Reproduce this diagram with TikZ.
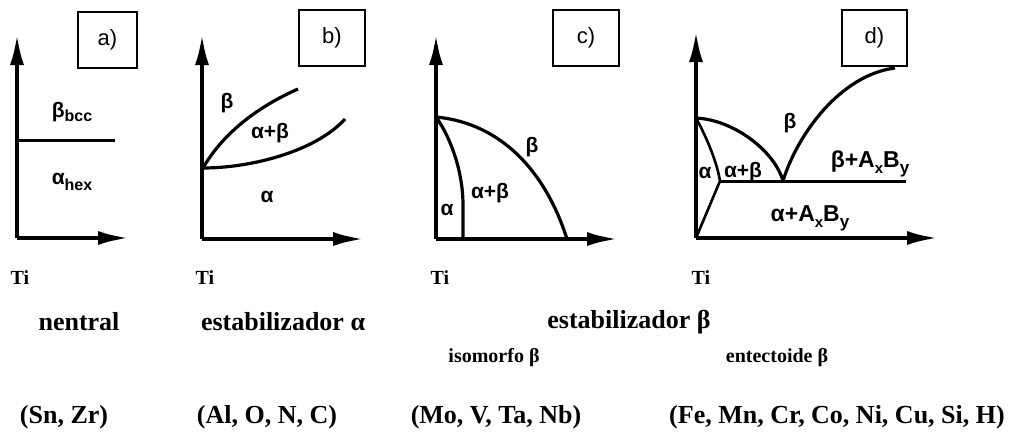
\documentclass[tikz,border=0pt]{standalone}
\usepackage{fontspec}
\setmainfont{Liberation Serif}
\newfontfamily\lsans{Liberation Sans}
\usetikzlibrary{arrows.meta}
\begin{document}
\begin{tikzpicture}[x=1pt,y=-1pt,
  axis/.style={line width=4.5pt,-{Latex[length=32pt,width=14pt]}},
  curve/.style={line width=3.2pt},
  tag/.style={draw,line width=1.4pt,minimum width=#1,minimum height=56pt,inner sep=0pt,font=\lsans\fontsize{22}{24}\selectfont},
  tag/.default=60pt,
  phase/.style={inner sep=0pt,font=\lsans\bfseries\fontsize{21}{24}\selectfont},
  phaseB/.style={inner sep=0pt,font=\lsans\bfseries\fontsize{23}{26}\selectfont},
  tilab/.style={inner sep=0pt,font=\bfseries\fontsize{20}{20}\selectfont},
  bigtxt/.style={inner sep=0pt,font=\bfseries\fontsize{26}{28}\selectfont},
  smalltxt/.style={inner sep=0pt,font=\bfseries\fontsize{20}{22}\selectfont}]
\useasboundingbox (0,0) rectangle (1023,434);
% ---------- panel a ----------
\coordinate (Oa) at (17,238);
\coordinate (Ya) at (17,33);
\coordinate (Xa) at (130,238);
\coordinate (Ha) at (115,140);
\coordinate (Ha0) at (17,140);
\draw[axis] (Oa) -- (Ya);
\draw[axis] (Oa) -- (Xa);
\draw[line width=3pt] (Ha0) -- (Ha);
\node[tag=59pt] (ta) at (107.5,40) {a)};
\node[phase] (bbcc) at (72,112) {β\raisebox{-0.35ex}{\fontsize{16}{18}\selectfont bcc}};
\node[phase] (ahex) at (72,182) {α\raisebox{-0.6ex}{\fontsize{16}{18}\selectfont hex}};
\node[tilab] (tia) at (20,278) {Ti};
% ---------- panel b ----------
\coordinate (Ob) at (202,239);
\coordinate (Yb) at (202,33);
\coordinate (Xb) at (365,239);
\coordinate (Pb) at (203,168);
\coordinate (Ub) at (298,89);
\coordinate (Lb) at (345,119);
\draw[axis] (Ob) -- (Yb);
\draw[axis] (Ob) -- (Xb);
\draw[curve] (Pb) .. controls (222,135) and (255,108) .. (Ub);
\draw[curve] (Pb) .. controls (250,168) and (315,152) .. (Lb);
\node[tag=66pt] (tb) at (332,38) {b)};
\node[phase] (bb) at (227,103) {β};
\node[phase] (abb) at (270,133) {α+β};
\node[phase] (ab) at (267,197) {α};
\node[tilab] (tib) at (205,278) {Ti};
% ---------- panel c ----------
\coordinate (Oc) at (436,239);
\coordinate (Yc) at (436,33);
\coordinate (Xc) at (619,239);
\coordinate (Pc) at (436,117);
\coordinate (Ec) at (567,239);
\coordinate (Ic) at (463,205);
\coordinate (Ic0) at (463,239);
\draw[axis] (Oc) -- (Yc);
\draw[axis] (Oc) -- (Xc);
\draw[curve] (Pc) .. controls (500,123) and (545,170) .. (Ec);
\draw[curve] (Pc) .. controls (451,138) and (463,172) .. (Ic) -- (Ic0);
\node[tag=66pt] (tc) at (586,38) {c)};
\node[phase] (ac) at (447,210) {α};
\node[phase] (abc) at (490,193) {α+β};
\node[phase] (bc) at (532,147) {β};
\node[tilab] (tic) at (440,278) {Ti};
% ---------- panel d ----------
\coordinate (Od) at (696,238);
\coordinate (Yd) at (696,30);
\coordinate (Xd) at (939,238);
\coordinate (Pd) at (696,118);
\coordinate (Ed) at (783,181);
\coordinate (Rd) at (895,68);
\coordinate (Hd0) at (720,181);
\coordinate (Hd) at (906,181);
\draw[axis] (Od) -- (Yd);
\draw[axis] (Od) -- (Xd);
\draw[curve] (Pd) .. controls (735,120) and (775,152) .. (Ed);
\draw[curve] (Ed) .. controls (797,135) and (840,75) .. (Rd);
\draw[line width=3pt] (Hd0) -- (Hd);
\draw[line width=2.6pt] (Pd) .. controls (708,140) and (717,163) .. (Hd0) -- (Od);
\node[tag=65pt] (td) at (874.5,38) {d)};
\node[phase] (ad) at (705,173) {α};
\node[phase] (abd) at (743,172) {α+β};
\node[phase] (bd) at (790,123) {β};
\node[phaseB] (bab) at (870,164) {β+A\raisebox{-0.5ex}{\fontsize{15}{16}\selectfont x}B\raisebox{-0.5ex}{\fontsize{17}{18}\selectfont y}};
\node[phaseB] (aab) at (810,218) {α+A\raisebox{-0.5ex}{\fontsize{15}{16}\selectfont x}B\raisebox{-0.5ex}{\fontsize{17}{18}\selectfont y}};
\node[tilab] (tid) at (701,278) {Ti};
% ---------- bottom texts ----------
\node[bigtxt] (neu) at (79,322) {nentral};
\node[bigtxt] (esa) at (283,322) {estabilizador α};
\node[bigtxt] (esb) at (629,322) {estabilizador β};
\node[smalltxt] (iso) at (494,358) {isomorfo β};
\node[smalltxt] (eut) at (777,358) {entectoide β};
\node[bigtxt] (sn) at (64,417) {(Sn, Zr)};
\node[bigtxt] (al) at (267,417) {(Al, O, N, C)};
\node[bigtxt] (mo) at (496,417) {(Mo, V, Ta, Nb)};
\node[bigtxt] (fe) at (837,417) {(Fe, Mn, Cr, Co, Ni, Cu, Si, H)};
\end{tikzpicture}
\end{document}
